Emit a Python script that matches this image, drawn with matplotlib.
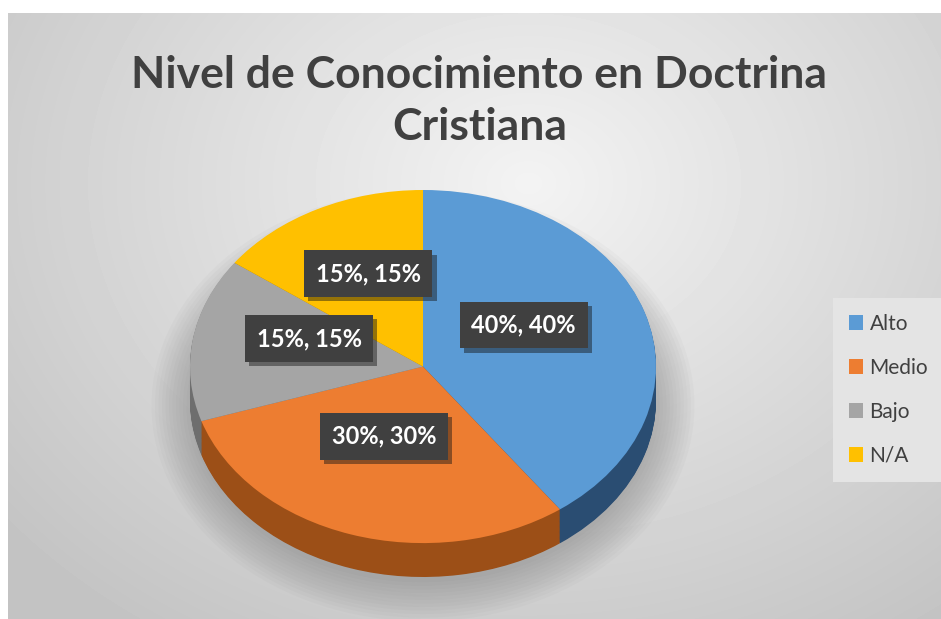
"""Recreate the 3D pie chart 'Nivel de Conocimiento en Doctrina Cristiana'."""

import matplotlib

matplotlib.use("Agg")
import matplotlib.pyplot as plt
import matplotlib.patheffects as pe
from matplotlib.patches import Ellipse
import numpy as np

categories = ["Alto", "Medio", "Bajo", "N/A"]
values = [40, 30, 15, 15]
top_colors = ["#5b9bd5", "#ed7d31", "#a5a5a5", "#ffc000"]
side_colors = ["#2a4d72", "#9c4f17", "#6e6e6e", "#a67d00"]
title = "Nivel de Conocimiento en Doctrina\nCristiana"

W, H = 941, 619


def create_plot() -> None:
    fig = plt.figure(figsize=(W / 100, H / 100), dpi=100)
    fig.patch.set_facecolor("white")

    # Background panel with a soft radial gradient.
    bg = fig.add_axes([8 / W, 0, 1 - 8 / W, 1 - 13 / H])
    yy, xx = np.mgrid[0:606, 0:933]
    d = np.sqrt(((xx - 520) / 600.0) ** 2 + ((yy - 170) / 480.0) ** 2)
    shade = np.clip(243 - 42 * d, 196, 243) / 255.0
    bg.imshow(shade, cmap="gray", vmin=0, vmax=1, aspect="auto", interpolation="bilinear")
    bg.set_axis_off()

    # Pie axes: top ellipse a=233px, b=177px, depth 34px.
    a_px, b_px, depth_px = 233, 177, 34
    left, right = 190, 656
    top, bottom = 190, 543 + depth_px
    ax = fig.add_axes([left / W, (H - bottom) / H, (right - left) / W, (bottom - top) / H])
    ax.set_axis_off()
    depth = depth_px / b_px

    # soft shadow under the pie
    for k in range(12):
        ax.add_patch(Ellipse((0.0, -depth - 0.03), 2.0 + 0.03 * k, 2.0 + 0.04 * k,
                             facecolor="#6f6f6f", edgecolor="none", alpha=0.04,
                             zorder=0, clip_on=False))

    # side layers, stacked from the bottom up
    steps = 40
    for k in range(steps, 0, -1):
        ax.pie(values, colors=side_colors, startangle=90, counterclock=False,
               center=(0, -depth * k / steps), wedgeprops={"linewidth": 0})

    wedges, _, autotexts = ax.pie(
        values, colors=top_colors, startangle=90, counterclock=False,
        center=(0, 0), wedgeprops={"linewidth": 0},
        autopct=lambda p: f"{p:.0f}%, {p:.0f}%", pctdistance=0.5,
        textprops={"fontsize": 17, "fontweight": "bold", "color": "white",
                   "family": ["Lato", "DejaVu Sans"]},
    )
    for t in autotexts:
        # the top face is seen in perspective, so labels sit a little higher
        x, y = t.get_position()
        t.set_position((x * 0.95 - 0.02, y + 0.08))
        t.set_bbox({"boxstyle": "square,pad=0.5", "facecolor": "#404040", "edgecolor": "none"})
        t.get_bbox_patch().set_path_effects(
            [pe.SimplePatchShadow(offset=(3, -3), alpha=0.45), pe.Normal()])

    ax.set_aspect("auto")
    ax.set_xlim(-1, 1)
    ax.set_ylim(-1 - depth, 1)

    fig.text(0.5 * (133 + 826) / W, 1 - 101 / H, title, ha="center", va="center",
             fontsize=32, fontweight="bold", color="#404040",
             family=["Lato", "DejaVu Sans"], linespacing=1.35)

    leg = fig.legend(wedges, categories, loc="center left",
                     bbox_to_anchor=(833 / W, 1 - 390 / H),
                     prop={"family": ["Lato", "DejaVu Sans"], "size": 15},
                     frameon=True, fancybox=False, facecolor="#e4e4e4", edgecolor="none",
                     framealpha=1, handlelength=0.7, handleheight=0.7, handletextpad=0.3,
                     labelspacing=1.15, borderpad=0.75, borderaxespad=0)
    for txt in leg.get_texts():
        txt.set_color("#404040")

    fig.savefig("out.png", dpi=100)


if __name__ == "__main__":
    create_plot()
